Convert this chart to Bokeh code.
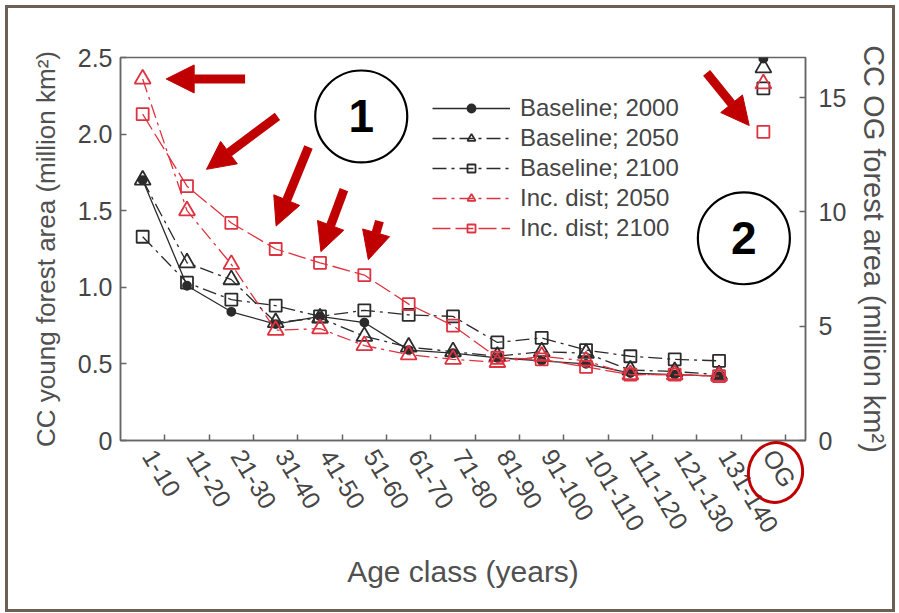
import numpy as np
from bokeh.plotting import figure
from bokeh.models import (Range1d, LinearAxis, FixedTicker, CustomJSTickFormatter, Legend,
                          LegendItem, Arrow, NormalHead, Label)
from bokeh.embed import file_html
from bokeh.resources import INLINE

# ---------------- data ----------------
categories = ["1-10", "11-20", "21-30", "31-40", "41-50", "51-60", "61-70", "71-80",
              "81-90", "91-100", "101-110", "111-120", "121-130", "131-140", "OG"]
young_idx = list(range(14))
og_idx = [14]

base_2000 = [1.70, 1.01, 0.84, 0.76, 0.81, 0.77, 0.59, 0.57, 0.54, 0.52, 0.50, 0.44, 0.43, 0.42]
base_2050 = [1.70, 1.16, 1.05, 0.77, 0.80, 0.68, 0.61, 0.58, 0.55, 0.58, 0.57, 0.46, 0.45, 0.43]
base_2100 = [1.33, 1.03, 0.92, 0.88, 0.81, 0.85, 0.82, 0.81, 0.64, 0.67, 0.59, 0.55, 0.53, 0.52]
inc_2050 = [2.36, 1.50, 1.15, 0.72, 0.73, 0.62, 0.56, 0.53, 0.51, 0.55, 0.52, 0.43, 0.43, 0.42]
inc_2100 = [2.13, 1.66, 1.42, 1.25, 1.16, 1.08, 0.89, 0.75, 0.54, 0.53, 0.48, 0.43, 0.43, 0.42]

og_base_2000 = [16.7]
og_base_2050 = [16.3]
og_base_2100 = [15.4]
og_inc_2050 = [15.6]
og_inc_2100 = [13.5]

left_ticks = [0, 0.5, 1.0, 1.5, 2.0, 2.5]
right_ticks = [0, 5, 10, 15]

# ---------------- style ----------------
FONT = "Liberation Sans"
BLACK = "#2b2b2b"
RED = "#dd3340"
ARROW_RED = "#c00000"
AXIS_C = "#666666"
TEXT_C = "#454545"

p = figure(width=890, height=607, output_backend="svg", toolbar_location=None,
           x_range=Range1d(-0.5, 14.95), y_range=Range1d(0, 2.5),
           min_border_left=112, min_border_right=93, min_border_top=49, min_border_bottom=175)
p.styles = {"border": "3px solid #6e5f54", "margin-left": "5px", "margin-top": "5px"}
p.xgrid.visible = False
p.ygrid.visible = False
p.outline_line_color = AXIS_C
p.outline_line_width = 1.5
p.background_fill_color = "white"
p.border_fill_color = "white"

p.extra_y_ranges = {"og": Range1d(0, 16.75)}

# x axis: labels at class centres (anchor nudged so rotated text starts at the centre),
# tick marks at class boundaries
LBL_SHIFT = 0.14
xa = p.xaxis[0]
xa.ticker = FixedTicker(ticks=[i + LBL_SHIFT for i in range(len(categories))],
                        minor_ticks=[i + 0.5 for i in range(len(categories))])
xa.major_label_overrides = {i + LBL_SHIFT: c for i, c in enumerate(categories)}
xa.major_tick_in = 0
xa.major_tick_out = 0
xa.minor_tick_in = 6
xa.minor_tick_out = 0
xa.major_label_orientation = -1.03
xa.major_label_standoff = 11
xa.axis_label = "Age class (years)"
xa.axis_label_standoff = 7

# left axis
ya = p.yaxis[0]
ya.ticker = FixedTicker(ticks=left_ticks)
ya.formatter = CustomJSTickFormatter(code="return tick == 0 ? '0' : tick.toFixed(1);")
ya.major_tick_in = 6
ya.major_tick_out = 0
ya.minor_tick_in = 0
ya.minor_tick_out = 0
ya.major_label_standoff = 8
ya.axis_label = "CC young forest area (million km²)"
ya.axis_label_standoff = 14

# right axis
ra = LinearAxis(y_range_name="og", ticker=FixedTicker(ticks=right_ticks),
                axis_label="CC OG forest area (million km²)")
ra.major_tick_in = 6
ra.major_tick_out = 0
ra.minor_tick_in = 0
ra.minor_tick_out = 0
ra.major_label_standoff = 13
ra.axis_label_standoff = 9
p.add_layout(ra, "right")

for ax in [xa, ya, ra]:
    ax.axis_line_color = AXIS_C
    ax.axis_line_width = 1.5
    ax.major_tick_line_color = AXIS_C
    ax.minor_tick_line_color = AXIS_C
    ax.major_tick_line_width = 1.5
    ax.minor_tick_line_width = 1.5
    ax.major_label_text_font = FONT
    ax.major_label_text_font_size = "25px"
    ax.major_label_text_color = TEXT_C
    ax.axis_label_text_font = FONT
    ax.axis_label_text_font_size = "26px"
    ax.axis_label_text_font_style = "normal"
    ax.axis_label_text_color = "#505050"
xa.axis_label_text_font_size = "30px"
ra.axis_label_text_font_size = "29px"

# ---------------- series ----------------
series = [
    ("Baseline; 2000", base_2000, og_base_2000, BLACK, "solid", "circle", 8, BLACK),
    ("Baseline; 2050", base_2050, og_base_2050, BLACK, "14 5 3 5", "triangle", 16, None),
    ("Baseline; 2100", base_2100, og_base_2100, BLACK, "14 5 3 5", "square", 12, None),
    ("Inc. dist; 2050", inc_2050, og_inc_2050, RED, "14 5 3 5", "triangle", 16, None),
    ("Inc. dist; 2100", inc_2100, og_inc_2100, RED, "18 5", "square", 12, None),
]

items = []
for name, vals, og, col, dash, marker, size, fill in series:
    ln = p.line(young_idx, vals, line_color=col, line_width=1.3, line_dash=dash)
    sc = p.scatter(young_idx, vals, marker=marker, size=size, line_color=col,
                   fill_color=fill, line_width=1.8)
    p.scatter(og_idx, og, marker=marker, size=size, line_color=col, fill_color=fill,
              line_width=1.8, y_range_name="og")
    items.append(LegendItem(label=name, renderers=[ln, sc]))

legend = Legend(items=items, location=(312, 198), border_line_color=None,
                background_fill_alpha=0, padding=0, margin=0, glyph_width=78,
                glyph_height=20, label_height=20, label_standoff=10, spacing=2,
                label_text_font=FONT, label_text_font_size="24px",
                label_text_color=TEXT_C, label_text_baseline="middle")
p.add_layout(legend)

# ---------------- annotations (red arrows, numbered circles, OG highlight) ----------------
arrows = [
    (2.31, 2.36, 0.53, 2.36),
    (3.04, 2.115, 1.44, 1.77),
    (3.74, 1.916, 3.01, 1.40),
    (4.54, 1.638, 4.02, 1.233),
    (5.34, 1.432, 5.09, 1.18),
    (12.72, 2.40, 13.68, 2.056),
]
for xs, ys, xe, ye in arrows:
    p.add_layout(Arrow(end=NormalHead(size=28, fill_color=ARROW_RED, line_color=ARROW_RED,
                                      line_width=1),
                       x_start=xs, y_start=ys, x_end=xe, y_end=ye,
                       line_color=ARROW_RED, line_width=9))

for cx, cy, txt in [(4.93, 2.115, "1"), (13.56, 1.32, "2")]:
    p.ellipse(x=[cx], y=[cy], width=92, height=92, width_units="screen",
              height_units="screen", fill_color="white", line_color="black", line_width=2.2)
    p.add_layout(Label(x=cx, y=cy, text=txt, text_align="center", text_baseline="middle",
                       text_font=FONT, text_font_size="46px",
                       text_font_style="bold", text_color="black"))

# red oval round the "OG" tick label: a DOM element laid over the canvas
# (canvas annotations are clipped to the plot frame)
oval_style = {"position": "absolute", "left": "739px", "top": "433px",
              "width": "51px", "height": "57px", "border": "3px solid #c00000",
              "border-radius": "50%", "transform": "rotate(10deg)",
              "pointer-events": "none", "box-sizing": "content-box"}
try:
    from bokeh.models.dom import Div as DomDiv
    try:
        oval = DomDiv(style=oval_style)
    except Exception:
        from bokeh.models import Styles
        oval = DomDiv(style=Styles(**{k.replace("-", "_"): v for k, v in oval_style.items()}))
    p.elements = [oval]
except Exception:
    pass

open("out.html", "w").write(file_html(p, INLINE))
